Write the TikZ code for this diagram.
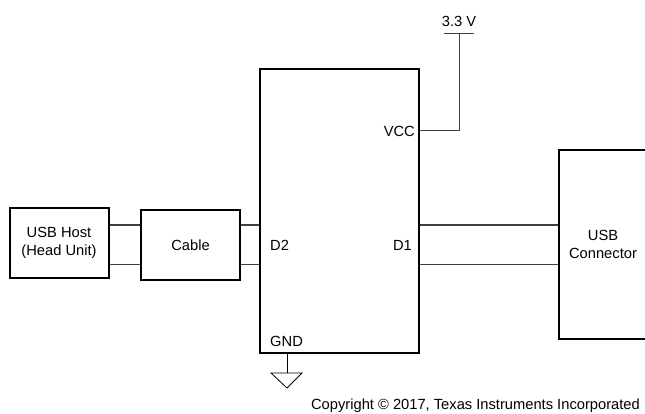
\documentclass[tikz,border=0pt]{standalone}
\usepackage{fontspec}
\setmainfont{Liberation Sans}
\usetikzlibrary{positioning}
\tikzset{
	block/.style = {draw, line width = 2pt, minimum width = #1, inner sep = 0pt, align = center},
	wire/.style = {line width = 1pt, black!75},
	pin/.style = {inner sep = 0pt}
}

\begin{document}
\begin{tikzpicture}[x = 1pt, y = -1pt, on grid, font = \fontsize{14.7}{18.5}\selectfont]
		\useasboundingbox (0,0) rectangle (645,414);
		\node (host) [block = 99pt, minimum height = 69pt] at (59,243) {USB Host\\(Head Unit)};
		\node (cable) [block = 99pt, minimum height = 69pt, right = 131.5pt of host, yshift = -2pt] {Cable};
		\node (ic) [block = 159pt, minimum height = 283pt] at (339.8,211) {};
		\node (conn) [block = 88pt, minimum height = 188pt] at (603,244.5) {USB\\Connector};
		% pin heights
		\coordinate (dp) at (340,225);
		\coordinate (dn) at (340,264);
		\coordinate (vcc) at (419,131);
		\coordinate (rail) at (459,34);
		\node (vddbar) [pin, above = 7pt of rail] {3.3 V};
		\node (d2) [pin, anchor = west] at (270,245) {D2};
		\node (d1) [pin, anchor = east] at (412,245) {D1};
		\node (vcclabel) [pin, anchor = east] at (415,131) {VCC};
		\node (gnd) [pin, anchor = west] at (270,341) {GND};
		\node (copy) [pin, anchor = east] at (640,406) {Copyright © 2017, Texas Instruments Incorporated};
		\coordinate (gndtop) at (287,373);
		\foreach \y in {dp, dn} {
			\draw[wire] (host.east |- \y) -- (cable.west |- \y);
			\draw[wire] (cable.east |- \y) -- (ic.west |- \y);
			\draw[wire] (ic.east |- \y) -- (conn.west |- \y);
		}
		\draw[wire] (ic.east |- vcc) -| (rail);
		\draw[wire] ([xshift = -15pt]rail) -- ([xshift = 15pt]rail);
		\draw[thick] (ic.south -| gndtop) -- (gndtop);
		\draw[thick] ([xshift = -16pt]gndtop) -- ([xshift = 15pt]gndtop) -- ([yshift = -15pt]gndtop) -- cycle;
		\end{tikzpicture}
\end{document}
